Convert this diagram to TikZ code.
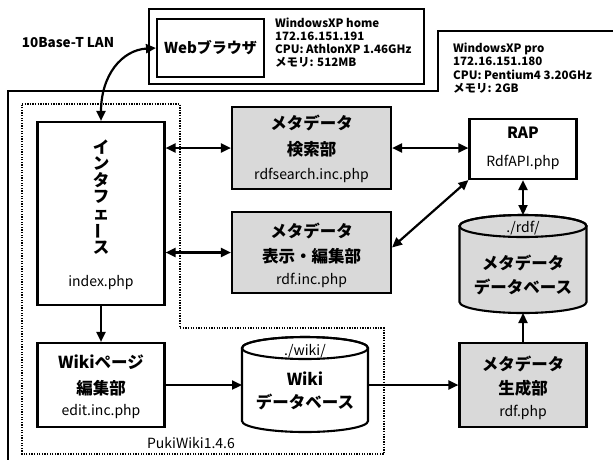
\documentclass[tikz,border=0pt]{standalone}
\usepackage{fontspec}
\setmainfont{Noto Sans CJK JP}
\usepackage{graphicx}
\usetikzlibrary{arrows.meta}
\tikzset{
  box/.style={draw, line width=2.1pt, inner sep=0pt},
  graybox/.style={box, fill=black!15},
  outer/.style={draw, line width=1.4pt},
  dotline/.style={line width=2pt, dash pattern=on 1.3pt off 1.3pt},
  conn/.style={line width=2.2pt, -{Triangle[length=10pt,width=9pt]}},
  biconn/.style={line width=2.2pt, {Triangle[length=10pt,width=9pt]}-{Triangle[length=10pt,width=9pt]}},
  ttl/.style={font=\fontsize{16.5}{16.5}\selectfont\bfseries, inner sep=0pt},
  sub/.style={font=\fontsize{14}{14}\selectfont, inner sep=0pt},
  info/.style={font=\fontsize{11.5}{12}\selectfont\bfseries, inner sep=0pt, anchor=west, text height=8pt, text depth=2pt},
}
\begin{document}
\begin{tikzpicture}[x=1pt,y=-1pt]
\useasboundingbox (0,0) rectangle (613,459);
% server outline
\draw[outer] (8,460) -- (8,91) -- (438,91) -- (438,31) -- (614,31);
\node[info] (s1) at (453,49) {WindowsXP pro};
\node[info] (s2) at (453,62) {172.16.151.180};
\node[info] (s3) at (453,76) {CPU: Pentium4 3.20GHz};
\node[info] (s4) at (453,89) {メモリ: 2GB};
% client
\node[outer, fill=white, minimum width=275pt, minimum height=75pt, inner sep=0pt] (client) at (286.5,46.5) {};
\node[box, minimum width=107pt, minimum height=58pt, font=\fontsize{15}{15}\selectfont\bfseries] (web) at (210.5,48) {Webブラウザ};
\node[info] (c1) at (275,24) {WindowsXP home};
\node[info] (c2) at (275,37) {172.16.151.191};
\node[info] (c3) at (275,50) {CPU: AthlonXP 1.46GHz};
\node[info] (c4) at (275,63) {メモリ: 512MB};
\node[font=\fontsize{13.5}{13.5}\selectfont\bfseries, inner sep=0pt] (lan) at (68,43) {10Base-T LAN};
% PukiWiki region
\draw[dotline] (22,104) -- (180,104) -- (180,328) -- (384,328) -- (384,454) -- (22,454) -- cycle;
\node[font=\fontsize{14}{14}\selectfont, inner sep=0pt] (puki) at (191,443) {PukiWiki1.4.6};
% interface
\node[box, minimum width=127pt, minimum height=183pt] (iface) at (101,213.5) {};
\node[font=\fontsize{16.5}{16.4}\selectfont\bfseries, align=center, inner sep=0pt] (ifacet) at (101,197)
  {イ\\ン\\タ\\フ\\ェ\\\rotatebox[origin=c]{90}{ー}\\ス};
\node[sub] (ifaces) at (101,283) {index.php};
% search
\node[graybox, minimum width=159pt, minimum height=82pt] (search) at (311.5,148) {};
\node[ttl] (search1) at (311.5,123) {メタデータ};
\node[ttl] (search2) at (311.5,149) {検索部};
\node[sub] (search3) at (311.5,175) {rdfsearch.inc.php};
% display
\node[graybox, minimum width=159pt, minimum height=81pt] (disp) at (311.5,252.5) {};
\node[ttl] (disp1) at (311.5,231) {メタデータ};
\node[ttl] (disp2) at (311.5,256) {表示・編集部};
\node[sub] (disp3) at (311.5,280) {rdf.inc.php};
% RAP
\node[box, minimum width=107pt, minimum height=60pt] (rap) at (523,149) {};
\node[font=\fontsize{15.5}{15.5}\selectfont\bfseries, inner sep=0pt] (rap1) at (523,133) {RAP};
\node[sub] (rap2) at (523,162) {RdfAPI.php};
% rdf cylinder
\draw[box, fill=black!15] (459.5,226) -- (459.5,302) arc[start angle=180,end angle=360,x radius=63.5pt,y radius=11pt] -- (586.5,226) arc[start angle=0,end angle=180,x radius=63.5pt,y radius=11pt] -- cycle;
\draw[box] (523,226) ellipse[x radius=63.5pt,y radius=11pt];
\coordinate (rdfT) at (523,215);
\coordinate (rdfB) at (523,313);
\node[sub] (rdf0) at (523,228) {./rdf/};
\node[ttl] (rdf1) at (523,263) {メタデータ};
\node[ttl] (rdf2) at (523,287) {データベース};
% generation
\node[graybox, minimum width=127pt, minimum height=84pt] (gen) at (523,385) {};
\node[ttl] (gen1) at (523,364) {メタデータ};
\node[ttl] (gen2) at (523,388) {生成部};
\node[sub] (gen3) at (523,412) {rdf.php};
% wiki edit
\node[box, fill=white, minimum width=127pt, minimum height=84pt] (edit) at (101,385) {};
\node[ttl] (edit1) at (101,362) {Wikiページ};
\node[ttl] (edit2) at (101,388) {編集部};
\node[sub] (edit3) at (101,412) {edit.inc.php};
% wiki cylinder
\draw[box, fill=white] (242,348) -- (242,421) arc[start angle=180,end angle=360,x radius=63pt,y radius=11pt] -- (368,348) arc[start angle=0,end angle=180,x radius=63pt,y radius=11pt] -- cycle;
\draw[box] (305,348) ellipse[x radius=63pt,y radius=11pt];
\coordinate (wikiW) at (242,385);
\coordinate (wikiE) at (368,385);
\node[sub] (wiki0) at (305,351) {./wiki/};
\node[ttl] (wiki1) at (305,379) {Wiki};
\node[ttl] (wiki2) at (305,402) {データベース};
% connectors
\draw[biconn] (web.west) .. controls (122,50) and (101,75) .. (iface.north);
\draw[biconn] (iface.east |- search.west) -- (search.west);
\draw[biconn] (iface.east |- disp.west) -- (disp.west);
\draw[biconn] (search.east) -- (rap.west |- search.east);
\draw[biconn] ([yshift=5pt]disp.east) -- (rap.south west);
\draw[biconn] (rap.south) -- (rdfT);
\draw[conn] (gen.north) -- (rdfB);
\draw[conn] (iface.south) -- (edit.north);
\draw[conn] (edit.east) -- (wikiW);
\draw[conn] (wikiE) -- (gen.west);
\end{tikzpicture}
\end{document}
